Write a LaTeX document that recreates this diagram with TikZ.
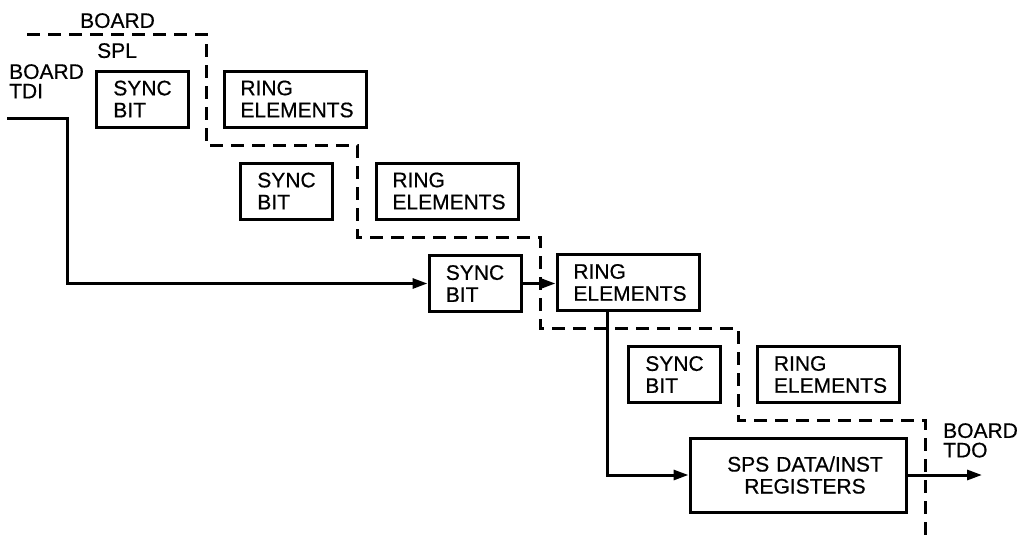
\documentclass[tikz,border=0pt]{standalone}
\usepackage{fontspec}
\setmainfont[FakeBold=0.5]{Liberation Sans}
\usetikzlibrary{arrows.meta,calc}
\begin{document}
\begin{tikzpicture}[x=1pt,y=-1pt,
  every node/.style={font=\fontsize{21}{22}\selectfont},
  blk/.style={draw,line width=3pt,align=left,inner sep=0pt},
  syncbox/.style={blk,minimum width=92pt,minimum height=56pt},
  ringbox/.style={blk,minimum width=142pt,minimum height=56pt},
  lbl/.style={inner sep=0pt,align=left,font=\fontsize{21}{19.5}\selectfont},
  wire/.style={line width=3pt},
  arr/.style={wire,-{Triangle[length=15pt,width=10pt]}},
  bound/.style={line width=3pt,dash pattern=on 13pt off 8pt}]
\useasboundingbox (0,0) rectangle (1025,536);
% boxes
\node[syncbox] (s1) at (142.5,99) {SYNC\\BIT};
\node[ringbox] (r1) at (295,99) {\hspace*{4pt}RING\\\hspace*{4pt}ELEMENTS};
\node[syncbox] (s2) at (286.5,191) {SYNC\\BIT};
\node[ringbox] (r2) at (447,191) {\hspace*{4pt}RING\\\hspace*{4pt}ELEMENTS};
\node[syncbox] (s3) at (475,283.5) {SYNC\\BIT};
\node[ringbox] (r3) at (628,282.5) {\hspace*{4pt}RING\\\hspace*{4pt}ELEMENTS};
\node[syncbox] (s4) at (674.5,374.5) {SYNC\\BIT};
\node[ringbox] (r4) at (828.5,374.5) {\hspace*{4pt}RING\\\hspace*{4pt}ELEMENTS};
\node[blk,align=center,minimum width=216pt,minimum height=74pt,text width=200pt] (sps) at (798,475)
  {\hspace*{14pt}SPS DATA/INST\\\hspace*{14pt}REGISTERS};
% labels
\node[lbl,anchor=north west] (lb) at (80,13) {BOARD};
\node[lbl,anchor=north west] (lspl) at (97,43) {SPL};
\node[lbl,anchor=north west] (ltdi) at (9,64) {BOARD\\TDI};
\node[lbl,anchor=north west] (ltdo) at (943,423) {BOARD\\TDO};
% boundary (dashed)
\draw[bound] (27,34) -- (206,34) -- (206,145) -- (357,145) -- (357,237)
  -- (540,237) -- (540,328) -- (738,328) -- (738,420) -- (925,420) -- (925,536);
% wires
\coordinate (tdi) at (7,118);
\coordinate (tdo) at (982,475);
\draw[arr] (tdi) -- (67,118) |- (s3.west);
\draw[arr] (s3.east) -- (s3.east -| r3.west);
\draw[arr] ($(r3.south west)+(52,0)$) |- (sps.west);
\draw[arr] (sps.east) -- (tdo);
\end{tikzpicture}
\end{document}
